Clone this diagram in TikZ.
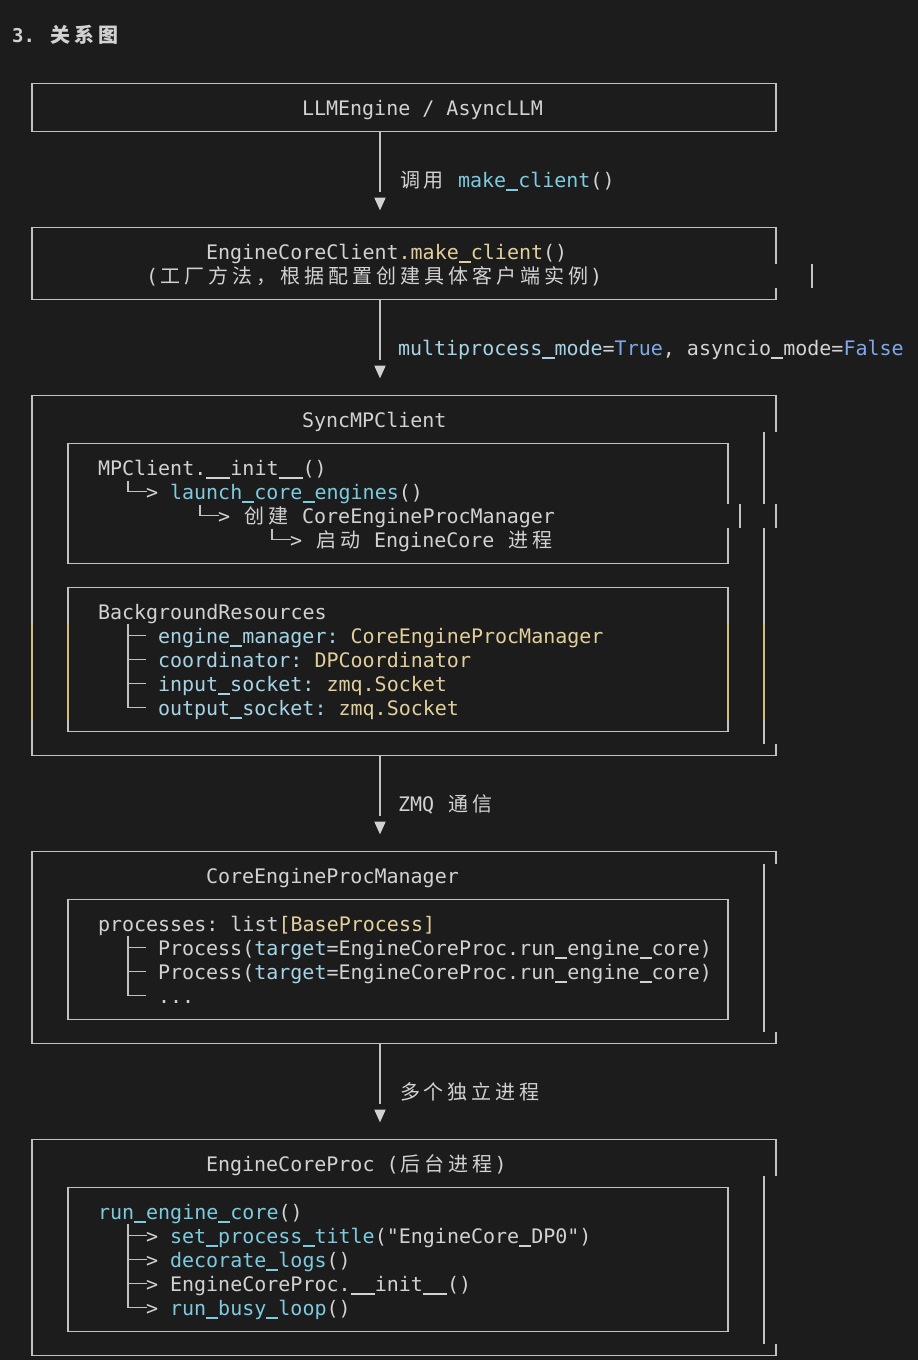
\documentclass[tikz,border=0pt]{standalone}
\usepackage{fontspec}
\newfontfamily\monof{DejaVu Sans Mono}
\newfontfamily\cjkf{Noto Sans CJK SC}
\definecolor{bg}{HTML}{1C1C1C}
\definecolor{fg}{HTML}{D2D2D2}
\definecolor{ln}{HTML}{C2C2C2}
\definecolor{fn}{HTML}{7CCBE0}
\definecolor{attr}{HTML}{A4D4E6}
\definecolor{yel}{HTML}{E3CF9C}
\definecolor{kw}{HTML}{7EA8EC}
\definecolor{yl}{HTML}{D5BD7E}
\newlength\cjkcell \setlength\cjkcell{24pt}
\def\cjloop#1{\ifx#1\relax\else\makebox[\cjkcell]{#1}\expandafter\cjloop\fi}
\newcommand\cj[1]{{\cjkf\cjloop#1\relax}}
\newcommand\us{\rule[-3.6pt]{0.60205em}{1.5pt}}
\tikzset{
  txt/.style={anchor=base west, inner sep=0pt, outer sep=0pt, text=fg, font=\monof\fontsize{20pt}{24pt}\selectfont\frenchspacing},
  boxline/.style={draw=ln, line width=1.5pt, line join=miter},
  yseg/.style={draw=yl, line width=1.5pt},
  conn/.style={draw=ln, line width=1.5pt},
  tree/.style={draw=ln, line width=1.5pt},
  tip/.style={fill=fg},
}
\begin{document}
\begin{tikzpicture}[x=1pt,y=-1pt]
\fill[bg] (0,0) rectangle (918,1360);
\useasboundingbox (0,0) rectangle (918,1360);

% title
\node[anchor=base west, inner sep=0pt, text=fg, font=\monof\bfseries\fontsize{19pt}{24pt}\selectfont] (title) at (12,42.5) {3.};
\node[anchor=base west, inner sep=0pt, text=fg, font=\cjkf\bfseries\fontsize{20pt}{24pt}\selectfont] (titlecn) at (48,42.5) {\cj{关系图}};

% ---- box 1
\coordinate (b1nw) at (32,83.5); \coordinate (b1se) at (776,131.5);
\draw[boxline] (b1nw) rectangle (b1se);
\node[txt] (b1t) at (302,115) {LLMEngine / AsyncLLM};

% ---- arrow 1
\coordinate (a1s) at (380,131.5); \coordinate (a1e) at (380,191.5); \coordinate (a1t) at (380,204);
\draw[conn] (a1s) -- (a1e);
\fill[tip] (a1t) ++(-5.7,-6.3) -- ++(11.4,0) -- ++(-5.7,12.6) -- cycle;
\node[txt] (a1l) at (398,187) {\cj{调用} {\color{fn}make\us client}()};

% ---- box 2
\draw[boxline] (776,263.5) -- (776,227.5) -- (32,227.5) -- (32,299.5) -- (776,299.5) -- (776,287.5);
\draw[boxline] (812,263.5) -- (812,287.5);
\node[txt] (b2t1) at (206,259) {EngineCoreClient{\color{yel}.make\us client}()};
\node[txt] (b2t2) at (146,283) {(\cj{工厂方法，根据配置创建具体客户端实例})};

% ---- arrow 2
\coordinate (a2s) at (380,299.5); \coordinate (a2e) at (380,359.5); \coordinate (a2t) at (380,372);
\draw[conn] (a2s) -- (a2e);
\fill[tip] (a2t) ++(-5.7,-6.3) -- ++(11.4,0) -- ++(-5.7,12.6) -- cycle;
\node[txt] (a2l) at (398,355) {{\color{attr}multiprocess\us mode}={\color{kw}True}, asyncio\us mode={\color{kw}False}};

% ---- box 3 (SyncMPClient)
\draw[boxline] (776,431.5) -- (776,395.5) -- (32,395.5) -- (32,755.5) -- (776,755.5) -- (776,743.5);
\draw[boxline] (764,431.5) -- (764,503.5);
\draw[boxline] (764,527.5) -- (764,743.5);
\draw[boxline] (740,503.5) -- (740,527.5);
\draw[boxline] (776,503.5) -- (776,527.5);
\draw[boxline] (728,503.5) -- (728,443.5) -- (68,443.5) -- (68,563.5) -- (728,563.5) -- (728,527.5);
\draw[boxline] (68,587.5) rectangle (728,731.5);
\draw[yseg] (32,623.5) -- (32,719.5);
\draw[yseg] (68,623.5) -- (68,719.5);
\draw[yseg] (728,623.5) -- (728,719.5);
\draw[yseg] (764,623.5) -- (764,719.5);
\node[txt] (b3t) at (302,427) {SyncMPClient};
\node[txt] (b3a1) at (98,475) {MPClient.\us\us init\us\us()};
\node[txt] (b3a2) at (146,499) {> {\color{fn}launch\us core\us engines}()};
\node[txt] (b3a3) at (218,523) {> \cj{创建} CoreEngineProcManager};
\node[txt] (b3a4) at (290,547) {> \cj{启动} EngineCore \cj{进程}};
\draw[tree] (128,480.5) -- (128,491.5) -- (147,491.5);
\draw[tree] (200,504.5) -- (200,515.5) -- (219,515.5);
\draw[tree] (272,528.5) -- (272,539.5) -- (291,539.5);
\node[txt] (b3b0) at (98,619) {BackgroundResources};
\node[txt] (b3b1) at (158,643) {{\color{attr}engine\us manager:} {\color{yel}CoreEngineProcManager}};
\node[txt] (b3b2) at (158,667) {{\color{attr}coordinator:} {\color{yel}DPCoordinator}};
\node[txt] (b3b3) at (158,691) {{\color{attr}input\us socket:} {\color{yel}zmq.Socket}};
\node[txt] (b3b4) at (158,715) {{\color{attr}output\us socket:} {\color{yel}zmq.Socket}};
\draw[tree] (128,623.5) -- (128,707.5) -- (146,707.5);
\draw[tree] (128,635.5) -- (146,635.5);
\draw[tree] (128,659.5) -- (146,659.5);
\draw[tree] (128,683.5) -- (146,683.5);

% ---- arrow 3
\coordinate (a3s) at (380,755.5); \coordinate (a3e) at (380,815.5); \coordinate (a3t) at (380,828);
\draw[conn] (a3s) -- (a3e);
\fill[tip] (a3t) ++(-5.7,-6.3) -- ++(11.4,0) -- ++(-5.7,12.6) -- cycle;
\node[txt] (a3l) at (398,811) {ZMQ \cj{通信}};

% ---- box 4 (CoreEngineProcManager)
\draw[boxline] (776,863.5) -- (776,851.5) -- (32,851.5) -- (32,1043.5) -- (776,1043.5) -- (776,1031.5);
\draw[boxline] (764,863.5) -- (764,1031.5);
\draw[boxline] (68,899.5) rectangle (728,1019.5);
\node[txt] (b4t) at (206,883) {CoreEngineProcManager};
\node[txt] (b4l0) at (98,931) {processes: list{\color{yel}[BaseProcess]}};
\node[txt] (b4l1) at (158,955) {Process({\color{attr}target}=EngineCoreProc.run\us engine\us core)};
\node[txt] (b4l2) at (158,979) {Process({\color{attr}target}=EngineCoreProc.run\us engine\us core)};
\node[txt] (b4l3) at (158,1003) {...};
\draw[tree] (128,935.5) -- (128,995.5) -- (146,995.5);
\draw[tree] (128,947.5) -- (146,947.5);
\draw[tree] (128,971.5) -- (146,971.5);

% ---- arrow 4
\coordinate (a4s) at (380,1043.5); \coordinate (a4e) at (380,1103.5); \coordinate (a4t) at (380,1116);
\draw[conn] (a4s) -- (a4e);
\fill[tip] (a4t) ++(-5.7,-6.3) -- ++(11.4,0) -- ++(-5.7,12.6) -- cycle;
\node[txt] (a4l) at (398,1099) {\cj{多个独立进程}};

% ---- box 5 (EngineCoreProc)
\draw[boxline] (776,1175.5) -- (776,1139.5) -- (32,1139.5) -- (32,1355.5) -- (776,1355.5) -- (776,1343.5);
\draw[boxline] (764,1175.5) -- (764,1343.5);
\draw[boxline] (68,1187.5) rectangle (728,1331.5);
\node[txt] (b5t) at (206,1171) {EngineCoreProc (\cj{后台进程})};
\node[txt] (b5l0) at (98,1219) {{\color{fn}run\us engine\us core}()};
\node[txt] (b5l1) at (146,1243) {> {\color{fn}set\us process\us title}("EngineCore\us DP0")};
\node[txt] (b5l2) at (146,1267) {> {\color{fn}decorate\us logs}()};
\node[txt] (b5l3) at (146,1291) {> EngineCoreProc.\us\us init\us\us()};
\node[txt] (b5l4) at (146,1315) {> {\color{fn}run\us busy\us loop}()};
\draw[tree] (128,1223.5) -- (128,1307.5) -- (147,1307.5);
\draw[tree] (128,1235.5) -- (147,1235.5);
\draw[tree] (128,1259.5) -- (147,1259.5);
\draw[tree] (128,1283.5) -- (147,1283.5);
\end{tikzpicture}
\end{document}
